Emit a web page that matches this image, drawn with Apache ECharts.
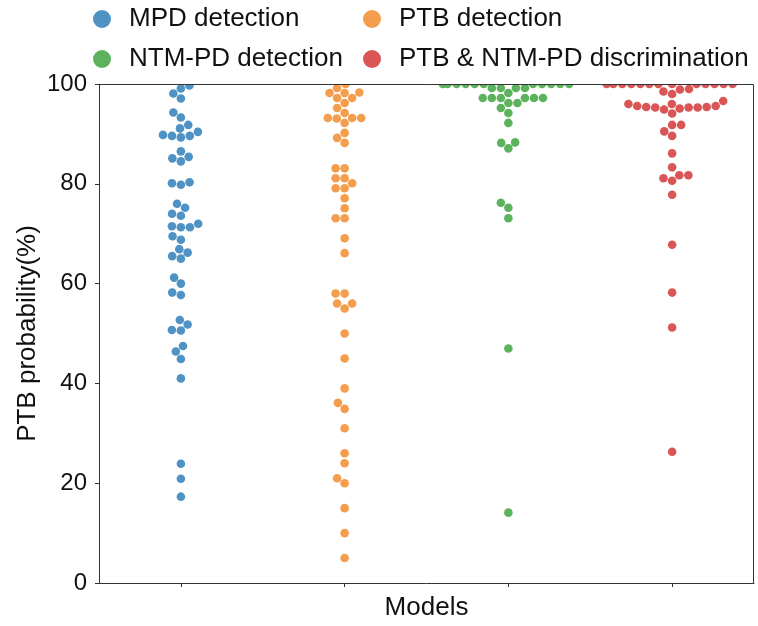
<!DOCTYPE html>
<html><head><meta charset="utf-8">
<script src="https://cdn.jsdelivr.net/npm/echarts@6/dist/echarts.min.js"></script>
<style>html,body{margin:0;padding:0;background:#fff}#c{width:758px;height:626px}</style>
</head><body><div id="c"></div>
<script>
// ---- data ----
const categories = ['MPD detection', 'PTB detection', 'NTM-PD detection', 'PTB & NTM-PD discrimination'];
const yTicks = [0, 20, 40, 60, 80, 100];
const mpdValues = [99.7, 99.1, 98.1, 97.1, 94.3, 93.3, 91.8, 91.1, 90.4, 89.6, 89.3, 89.6, 89.8, 86.5, 85.1, 84.5, 85.4,
  80.1, 79.8, 80.3, 76.0, 75.2, 74.0, 73.6, 72.0, 71.3, 71.3, 71.5, 69.5, 68.8, 66.9, 66.2, 65.5, 65.0, 61.2, 60.0,
  58.2, 57.7, 52.7, 51.8, 50.7, 50.6, 47.5, 46.4, 44.9, 41.0, 23.9, 20.9, 17.3];
const ptbValues = [100, 99.2, 98.3, 98.2, 98.2, 97.2, 97.2, 96.2, 95.2, 94.2, 93.2, 93.1, 93.2, 93.2, 92.2, 90.2, 89.2, 88.2,
  83.1, 83.1, 81.1, 81.1, 80.1, 79.1, 79.1, 77.1, 75.1, 73.1, 73.1, 69.1, 66.1, 58.0, 58.0, 56.0, 56.0, 55.0, 50.0,
  45.0, 39.0, 36.1, 34.9, 31.0, 26.0, 24.0, 21.0, 20.0, 15.0, 10.0, 5.0];
const ntmValues = [100, 100, 100, 100, 100, 100, 100, 100, 100, 100, 100, 99.2, 99.2, 99.2, 99.2, 98.2,
  97.2, 97.2, 97.2, 97.2, 97.2, 97.2, 96.2, 96.2, 95.2, 94.2, 92.2, 88.2, 88.3, 87.1, 76.2, 75.2, 73.1, 47.0, 14.1];
const discValues = [100, 100, 100, 100, 100, 100, 100, 100, 100, 100, 100, 100, 100, 99.0, 98.9, 98.5, 98.0, 96.6,
  94.1, 94.9, 95.1, 95.3, 95.3, 95.3, 95.4, 95.4, 95.6, 95.6, 96.0, 96.0,
  91.8, 91.8, 90.5, 89.6, 86.1, 83.3, 81.1, 81.7, 81.7, 80.6, 77.8, 67.8, 58.2, 51.2, 26.3];
const seriesValues = [mpdValues, ptbValues, ntmValues, discValues];

// ---- layout ----
const G = { left: 99, top: 84, width: 655, height: 499 };
const palette = ['#4f93c5', '#f49d4c', '#5db35d', '#d95556'];
const FONT = 'Liberation Sans, Arial, sans-serif';
const DOT = 8.6;

// beeswarm layout (seaborn-like): offsets computed in pixels, converted to axis units
const pxPerY = G.height / 100;
const pxPerX = G.width / categories.length;
const GAP = DOT * 1.05;
const HALFW = 0.4 * pxPerX;
function swarm(vals) {
  const pts = vals.map(v => ({ v, y: v * pxPerY, x: 0 }));
  const order = pts.slice().sort((a, b) => a.y - b.y);
  const placed = [];
  for (const p of order) {
    const nb = placed.filter(q => Math.abs(q.y - p.y) < GAP);
    const cands = [0];
    let leftFirst = true;
    for (const q of nb) {
      const dy = p.y - q.y;
      const dx = Math.sqrt(Math.max(GAP * GAP - dy * dy, 0));
      if (leftFirst) cands.push(q.x - dx, q.x + dx); else cands.push(q.x + dx, q.x - dx);
      leftFirst = !leftFirst;
    }
    const idx = cands.map((c, i) => i).sort((a, b) => (Math.abs(cands[a]) - Math.abs(cands[b])) || (a - b));
    let chosen = 0;
    for (const i of idx) {
      const c = cands[i];
      if (nb.every(q => (q.x - c) * (q.x - c) + (q.y - p.y) * (q.y - p.y) >= GAP * GAP - 1e-6)) { chosen = c; break; }
    }
    p.x = Math.max(-HALFW, Math.min(HALFW, chosen));
    placed.push(p);
  }
  return pts;
}

const series = seriesValues.map((vals, i) => ({
  name: categories[i],
  type: 'scatter',
  xAxisIndex: 1,
  symbol: 'circle',
  symbolSize: DOT,
  clip: false,
  itemStyle: { color: palette[i], opacity: 1 },
  emphasis: { disabled: true },
  data: swarm(vals).map(p => [i + p.x / pxPerX, p.v])
}));

const chart = echarts.init(document.getElementById('c'), null, { renderer: 'canvas' });
const legendCommon = {
  orient: 'vertical', top: 1, itemWidth: 44, itemHeight: 18, itemGap: 14, icon: 'circle',
  textStyle: { fontSize: 26, fontFamily: FONT, color: '#111', lineHeight: 26 }
};
chart.setOption({
  animation: false,
  backgroundColor: '#fff',
  color: palette,
  legend: [
    Object.assign({ left: 88, data: [categories[0], categories[2]] }, legendCommon),
    Object.assign({ left: 358, data: [categories[1], categories[3]] }, legendCommon)
  ],
  grid: { left: G.left, top: G.top, width: G.width, height: G.height },
  xAxis: [{
    type: 'category', data: categories, boundaryGap: true,
    name: 'Models', nameLocation: 'middle', nameGap: 12, nameMoveOverlap: false,
    nameTextStyle: { fontSize: 26, fontFamily: FONT, color: '#111', lineHeight: 26, verticalAlign: 'top' },
    axisLine: { onZero: false, lineStyle: { color: '#333', width: 1 } },
    axisTick: { show: true, alignWithLabel: true, interval: 0, length: 4, lineStyle: { color: '#333' } },
    axisLabel: { show: true, interval: 0, formatter: () => '' },
    splitLine: { show: false }
  }, {
    type: 'value', min: -0.5, max: categories.length - 0.5, show: false
  }],
  yAxis: {
    type: 'value', min: yTicks[0], max: yTicks[yTicks.length - 1], interval: yTicks[1] - yTicks[0],
    name: 'PTB probability(%)', nameLocation: 'middle', nameGap: 58, nameMoveOverlap: false,
    nameTextStyle: { fontSize: 26, fontFamily: FONT, color: '#111' },
    axisLine: { show: true, onZero: false, lineStyle: { color: '#333', width: 1 } },
    axisTick: { show: true, length: 4, lineStyle: { color: '#333' } },
    axisLabel: { fontSize: 24, fontFamily: FONT, color: '#111', margin: 12 },
    splitLine: { show: false }
  },
  series: series,
  graphic: [
    { type: 'rect', z: 100, silent: true,
      shape: { x: G.left + 0.5, y: G.top - 8, width: G.width - 1, height: 8 },
      style: { fill: '#fff' } },
    { type: 'polyline', z: 101, silent: true,
      shape: { points: [[G.left, G.top + 0.5], [G.left + G.width - 0.5, G.top + 0.5], [G.left + G.width - 0.5, G.top + G.height]] },
      style: { stroke: '#333', lineWidth: 1, fill: null } }
  ]
});
</script>
</body></html>
